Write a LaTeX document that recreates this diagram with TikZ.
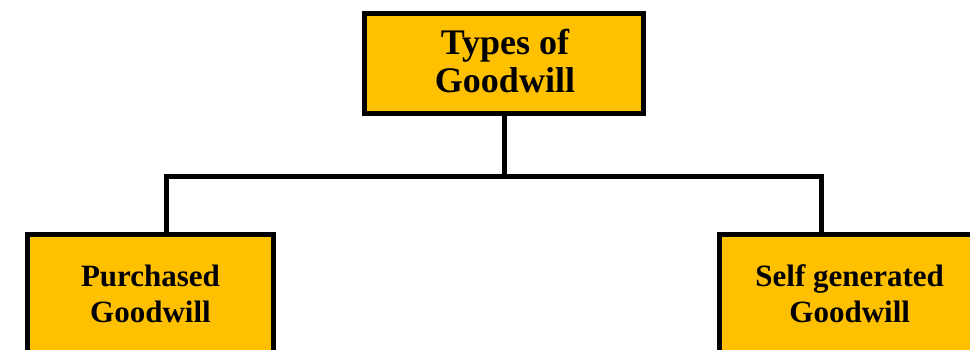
\documentclass[tikz,border=0pt]{standalone}
\usepackage{fontspec}
\setmainfont{Liberation Serif}
\definecolor{gold}{HTML}{FFC000}
\begin{document}
\begin{tikzpicture}[x=1pt,y=-1pt,
  box/.style={draw=black,fill=gold,line width=5pt,rectangle,inner sep=0pt,outer sep=0pt},
  conn/.style={draw=black,line width=5pt,line join=miter},
  bigtxt/.style={font=\fontsize{36}{38}\selectfont\bfseries,anchor=base,inner sep=0pt},
  smalltxt/.style={font=\fontsize{31}{36}\selectfont\bfseries,anchor=base,inner sep=0pt}]
\useasboundingbox (0,0) rectangle (970,350);
\clip (0,0) rectangle (970,350);
\node[box,minimum width=279pt,minimum height=100pt] (top) at (504,63.5) {};
\node[box,minimum width=246pt,minimum height=145pt] (left) at (150.5,307) {};
\node[box,minimum width=281pt,minimum height=145pt] (right) at (860,307) {};
\node[bigtxt] (t1) at (505,55) {Types of};
\node[bigtxt] (t2) at (505,92.7) {Goodwill};
\node[smalltxt] (l1) at (150.5,286.7) {Purchased};
\node[smalltxt] (l2) at (150.5,322.7) {Goodwill};
\node[smalltxt] (r1) at (849.7,286.7) {Self generated};
\node[smalltxt] (r2) at (849.7,322.7) {Goodwill};
\coordinate (lt) at (166.5,176.5);
\coordinate (rt) at (821,176.5);
\draw[conn] (lt |- left.north) -- (lt) -- (rt) -- (rt |- right.north);
\draw[conn] (top.south) -- (top.south |- lt);
\end{tikzpicture}
\end{document}
